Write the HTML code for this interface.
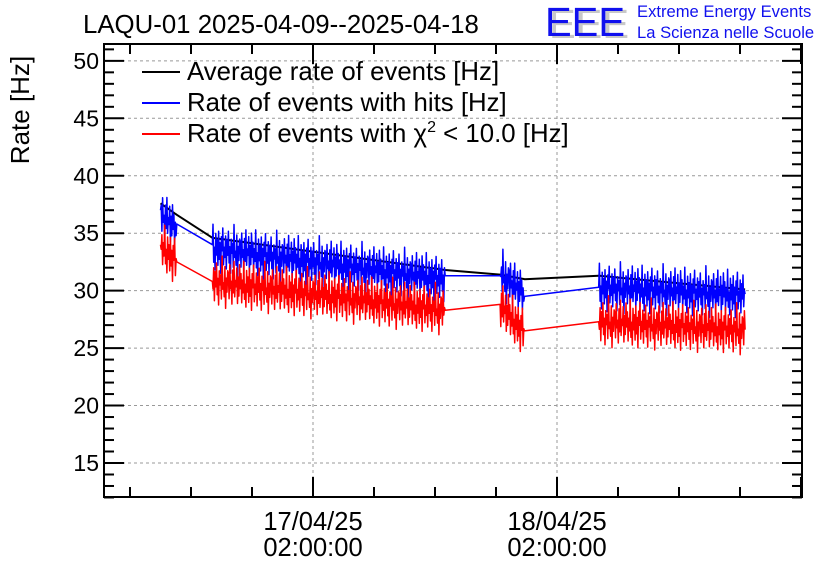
<!DOCTYPE html>
<html><head><meta charset="utf-8"><style>
body{margin:0;background:#fff;}
svg{display:block;font-family:"Liberation Sans",sans-serif;}
</style></head><body>
<svg id="chart" width="836" height="572" viewBox="0 0 836 572" xmlns="http://www.w3.org/2000/svg">
<rect width="836" height="572" fill="#fff"/>
<text x="83" y="33" font-size="25.8">LAQU-01 2025-04-09--2025-04-18</text>
<g>
<text x="549" y="38" font-size="41" fill="#c8c8c8" textLength="80" lengthAdjust="spacingAndGlyphs">EEE</text>
<text x="545" y="36" font-size="41" fill="#1010ee" textLength="80" lengthAdjust="spacingAndGlyphs">EEE</text>
<text x="637" y="17" font-size="16.6" fill="#1010ee">Extreme Energy Events</text>
<text x="637" y="38" font-size="16.6" fill="#1010ee">La Scienza nelle Scuole</text>
</g>
<text font-size="26" text-anchor="middle" transform="translate(29,110) rotate(-90)">Rate [Hz]</text>
<g id="grid"></g>
<g id="series"></g>
<g id="axes"></g>
<g>
<line x1="142" y1="72" x2="180" y2="72" stroke="#000" stroke-width="2"/>
<text x="187" y="80" font-size="25.8">Average rate of events [Hz]</text>
<line x1="142" y1="103" x2="180" y2="103" stroke="#00f" stroke-width="2"/>
<text x="187" y="111" font-size="25.8">Rate of events with hits [Hz]</text>
<line x1="142" y1="134" x2="180" y2="134" stroke="#f00" stroke-width="2"/>
<text x="187" y="142" font-size="25.8">Rate of events with χ<tspan dy="-10" font-size="16">2</tspan><tspan dy="10"> &lt; 10.0 [Hz]</tspan></text>
</g>
</svg>
<script>
// hours relative to 17/04/25 02:00:00
const xTickHours = [0, 24];
const xTickLabels = ["17/04/25", "18/04/25"];
const xTickTimes = ["02:00:00", "02:00:00"];
const yTicks = [15, 20, 25, 30, 35, 40, 45, 50];
// segments: start/end hour, values at start/end
const segStart = [-15.0, -9.9, 18.4, 28.1];
const segEnd = [-13.4, 13.0, 20.8, 42.5];
const avgStart = [37.6, 34.6, 31.4, 31.3];
const avgEnd = [36.6, 31.8, 31.0, 30.1];
const hitsStart = [37.0, 34.0, 31.3, 30.3];
const hitsEnd = [35.8, 31.3, 29.5, 29.7];
const hitsMeanOffset = [-0.4, -0.3, 0.2, 0];
const chiStart = [34.0, 30.8, 28.8, 27.3];
const chiEnd = [32.5, 28.3, 26.5, 26.6];
const chiMeanOffset = [0, 0, -0.1, 0];
const noise = [0.8,-1.2,1.5,-0.4,0.2,-1.6,1.1,-0.7,1.8,-1.0,0.3,-0.2,1.3,-1.5,0.6,-0.9,1.6,-0.3,0.9,-1.4,0.4,-0.6,1.9,-1.1,0.1,-1.7,1.2,-0.5,0.7,-1.3,1.4,-0.8,0.5,-1.9,1.0,-0.1,1.7,-1.2,0.2,-0.6,1.1,-1.5,0.8,-0.4,1.5,-1.0,0.3,-1.8,0.9,-0.2,0.6,-1.3,2.1,-0.5,0.0,-1.1,1.3,-2.0,0.4,-0.7,1.0];

const X0=104,X1=802,Y0=44,Y1=497;
const xs = h => 313 + h*244/24;
const ys = v => 463 - (v-15)*11.49;
const NS="http://www.w3.org/2000/svg";
function mk(tag, attrs, parent){const e=document.createElementNS(NS,tag);for(const k in attrs)e.setAttribute(k,attrs[k]);parent.appendChild(e);return e;}
const grid=document.getElementById('grid'), axes=document.getElementById('axes'), series=document.getElementById('series');

yTicks.forEach(v=>{
  const g=mk('line',{x1:X0,x2:X1,y1:ys(v),y2:ys(v),stroke:'#999','stroke-dasharray':'3,3','stroke-width':1},grid);
  
  
  const t=mk('text',{x:99,y:ys(v)+8,'font-size':23,'text-anchor':'end'},axes);
  t.textContent=v;
  
  
});
xTickHours.forEach((h,i)=>{
  const g=mk('line',{x1:xs(h),x2:xs(h),y1:Y0,y2:Y1,stroke:'#999','stroke-dasharray':'3,3','stroke-width':1},grid);
  
  
  const t=mk('text',{x:xs(h),y:530,'font-size':25.5,'text-anchor':'middle'},axes);
  t.textContent=xTickLabels[i];
  
  
  const t2=mk('text',{x:xs(h),y:556,'font-size':25.5,'text-anchor':'middle'},axes);
  t2.textContent=xTickTimes[i];
  
  
});
for(let v=12;v<=51;v++){
  const L=(v%5===0)?20:10;
  mk('line',{x1:X0,x2:X0+L,y1:ys(v),y2:ys(v),stroke:'#000','stroke-width':2},axes);
  mk('line',{x1:X1-L,x2:X1,y1:ys(v),y2:ys(v),stroke:'#000','stroke-width':2},axes);
}
for(let h=-18;h<=48;h+=6){
  const x=xs(h); if(x<X0||x>X1)continue;
  const L=(h%24===0)?20:10;
  mk('line',{x1:x,x2:x,y1:Y1,y2:Y1-L,stroke:'#000','stroke-width':2},axes);
  mk('line',{x1:x,x2:x,y1:Y0,y2:Y0+L,stroke:'#000','stroke-width':2},axes);
}
const fr=mk('rect',{x:X0,y:Y0,width:X1-X0,height:Y1-Y0,fill:'none',stroke:'#000','stroke-width':2},axes);



function buildSeries(st,en,off,amp,color,name,phase){
  let pts=[]; let k=phase;
  for(let s=0;s<segStart.length;s++){
    const x0=xs(segStart[s]),x1=xs(segEnd[s]);
    const n=Math.max(2,Math.round((x1-x0)/0.7));
    for(let i=0;i<=n;i++){
      const f=i/n;
      const edge=(i===0||i===n);
      const o=off?off[s]:0;
      const v=st[s]+(en[s]-st[s])*f + (amp&&!edge? o+noise[(k++)%noise.length]*amp : 0);
      pts.push(xs(segStart[s]+(segEnd[s]-segStart[s])*f).toFixed(1)+','+ys(v).toFixed(1));
    }
  }
  const p=mk('polyline',{points:pts.join(' '),fill:'none',stroke:color,'stroke-width':amp?1.5:2,'stroke-linejoin':'round'},series);
  
  
}
buildSeries(avgStart,avgEnd,null,0,'#000','average-rate-line',0);
buildSeries(hitsStart,hitsEnd,hitsMeanOffset,1.1,'#00f','hits-rate-line',0);
buildSeries(chiStart,chiEnd,chiMeanOffset,1.1,'#f00','chi2-rate-line',17);
</script>
</body></html>
